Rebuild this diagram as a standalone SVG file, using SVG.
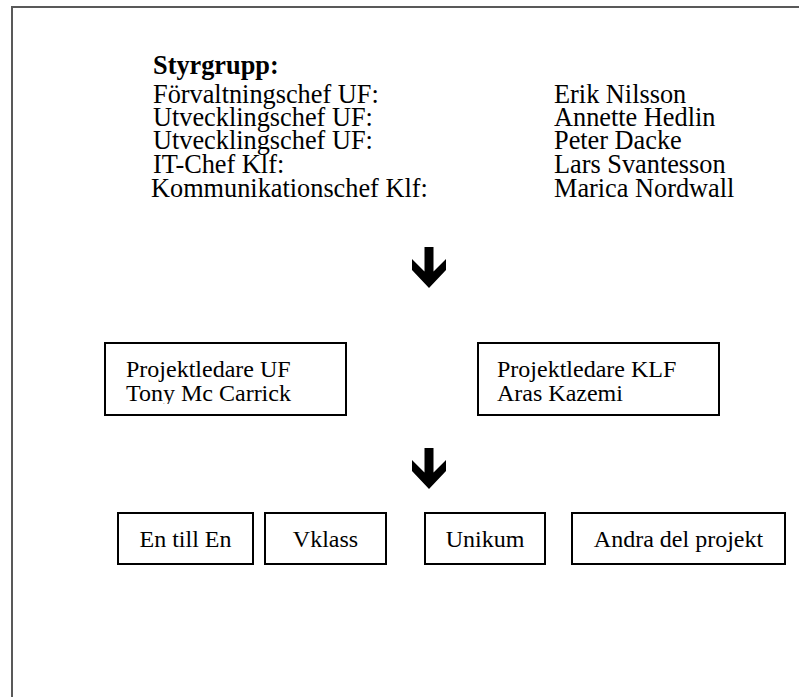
<svg xmlns="http://www.w3.org/2000/svg" width="799" height="697" viewBox="0 0 799 697">
<defs>
<style>
.t{font-family:"Liberation Serif","Times New Roman",serif;font-size:26.3px;fill:#000}
.bt{font-family:"Liberation Serif","Times New Roman",serif;font-size:24px;fill:#000}
.b{font-weight:bold}
.box{fill:#fff;stroke:#000;stroke-width:2}
.arr{fill:#000}
</style>
<clipPath id="clip1"><rect x="105" y="343" width="241" height="61"/></clipPath>
</defs>
<rect width="799" height="697" fill="#fff"/>
<path d="M12 697 V7 H799" fill="none" stroke="#595959" stroke-width="2"/>
<g id="styrgrupp">
<text class="t b" x="153" y="74">Styrgrupp:</text>
<text class="t" x="153" y="103">Förvaltningschef UF:</text>
<text class="t" x="153" y="126">Utvecklingschef UF:</text>
<text class="t" x="153" y="149">Utvecklingschef UF:</text>
<text class="t" x="153" y="173">IT-Chef Klf:</text>
<text class="t" x="151" y="197">Kommunikationschef Klf:</text>
<text class="t" x="554" y="103">Erik Nilsson</text>
<text class="t" x="554" y="126">Annette Hedlin</text>
<text class="t" x="554" y="149">Peter Dacke</text>
<text class="t" x="554" y="173">Lars Svantesson</text>
<text class="t" x="554" y="197">Marica Nordwall</text>
</g>
<g id="connectors">
<polygon class="arr" points="424.5,247 433.5,247 433.5,271.5 446,259 446,270 429,288 412,270 412,259 424.5,271.5"/>
<polygon class="arr" points="424.5,448 433.5,448 433.5,472.5 446,460 446,471 429,489 412,471 412,460 424.5,472.5"/>
</g>
<g id="pl-uf">
<rect class="box" x="105" y="343" width="241" height="72"/>
<g clip-path="url(#clip1)">
<text class="bt" x="126" y="377">Projektledare UF</text>
<text class="bt" x="126" y="401">Tony Mc Carrick</text>
</g>
</g>
<g id="pl-klf">
<rect class="box" x="478" y="343" width="241" height="72"/>
<text class="bt" x="497" y="377">Projektledare KLF</text>
<text class="bt" x="497" y="401">Aras Kazemi</text>
</g>
<g id="entillen">
<rect class="box" x="118" y="513" width="135" height="51"/>
<text class="bt" x="185.5" y="547" text-anchor="middle">En till En</text>
</g>
<g id="vklass">
<rect class="box" x="265" y="513" width="121" height="51"/>
<text class="bt" x="325.5" y="547" text-anchor="middle">Vklass</text>
</g>
<g id="unikum">
<rect class="box" x="425" y="513" width="120" height="51"/>
<text class="bt" x="485" y="547" text-anchor="middle">Unikum</text>
</g>
<g id="andra">
<rect class="box" x="572" y="513" width="213" height="51"/>
<text class="bt" x="678.5" y="547" text-anchor="middle">Andra del projekt</text>
</g>
</svg>
